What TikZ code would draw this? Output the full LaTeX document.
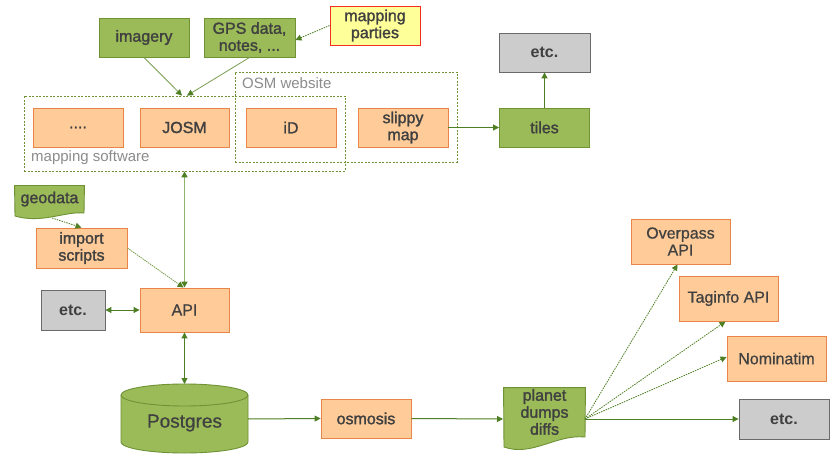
\documentclass[tikz,border=0pt]{standalone}
\usepackage{fontspec}
\setmainfont{Liberation Sans}
\newfontfamily\medfont{Liberation Sans}[FakeBold=1.6]
\newfontfamily\regfont{Liberation Sans}[FakeBold=0.7]
\usetikzlibrary{arrows.meta}
\definecolor{gfill}{HTML}{9BBB59}
\definecolor{gline}{HTML}{6E9234}
\definecolor{arr}{HTML}{4F7F24}
\definecolor{lgline}{HTML}{8DB76A}
\definecolor{thinc}{HTML}{7A9E52}
\definecolor{ofill}{HTML}{FFCC99}
\definecolor{oline}{HTML}{E8864A}
\definecolor{grfill}{HTML}{CCCCCC}
\definecolor{grline}{HTML}{6A6A6A}
\definecolor{yfill}{HTML}{FFFF99}
\definecolor{yline}{HTML}{F03020}
\definecolor{txt}{HTML}{404040}
\definecolor{lbl}{HTML}{8C8C8C}
\tikzset{arrtip/.tip={Triangle[length=6pt,width=6pt,color=arr,fill=arr]}}
\begin{document}
\begin{tikzpicture}[x=1pt,y=-1pt,
  base/.style={rectangle, line width=0.9pt, inner sep=0pt, align=center, text=txt,
    font=\fontsize{16}{17}\selectfont\regfont},
  med/.style={font=\fontsize{16}{17}\selectfont\medfont},
  sz/.style 2 args={minimum width=#1pt, minimum height=#2pt},
  greenbox/.style={base, med, fill=gfill, draw=gline},
  orangebox/.style={base, fill=ofill, draw=oline},
  greybox/.style={base, fill=grfill, draw=grline, font=\fontsize{16}{17}\selectfont\bfseries},
  yellowbox/.style={base, med, fill=yfill, draw=yline},
  plain/.style={base, draw=none},
  greendoc/.style={fill=gfill, draw=gline, line width=0.9pt},
  group/.style={draw=gline, line width=0.8pt, dash pattern=on 2pt off 1.5pt, inner sep=0pt},
  grouplabel/.style={text=lbl, font=\fontsize{15}{17}\selectfont, inner sep=0pt},
  arrowline/.style={draw=arr, line width=1pt, -{arrtip}},
  dblarrow/.style={draw=arr, line width=1pt, {arrtip}-{arrtip}},
  lightdbl/.style={draw=lgline, line width=1.8pt, {arrtip}-{arrtip}},
  thinarrow/.style={draw=thinc, line width=0.8pt, -{arrtip}},
  dottedarrow/.style={draw=arr, line width=0.8pt, dash pattern=on 1.5pt off 1pt, -{arrtip}},
]
\useasboundingbox (0,0) rectangle (840,473);
\fill[white] (0,0) rectangle (840,473);

% group boxes
\node[group, sz={321}{75}] (msbox) at (184.5,133.5) {};
\node[group, sz={222}{90}] (osmbox) at (346,117) {};
\node[grouplabel, anchor=base west] (mslabel) at (31,162) {mapping software};
\node[grouplabel, anchor=base west] (osmlabel) at (242,89) {OSM website};

% top sources
\node[greenbox, sz={90}{39}] (imagery) at (144,37.5) {imagery};
\node[greenbox, sz={91}{39}] (gps) at (249.5,37.5) {GPS data,\\notes, ...};
\node[yellowbox, sz={90}{39}] (parties) at (375,25.5) {mapping\\parties};

% editors
\node[orangebox, med, sz={90}{39}] (dots) at (78,127.5) {....};
\node[orangebox, med, sz={89}{39}] (josm) at (184.5,127.5) {JOSM};
\node[orangebox, sz={90}{39}] (id) at (291,127.5) {iD};
\node[orangebox, med, sz={90}{39}] (slippy) at (403,127.5) {slippy\\map};
\node[greenbox, sz={90}{39}] (tiles) at (544.5,127.5) {tiles};
\node[greybox, sz={91}{39}] (etctop) at (544.5,52.5) {etc.};

% geodata document
\node[plain, sz={69}{28}] (geodata) at (49.5,200) {};
\draw[greendoc] (geodata.north west) -- (geodata.north east) -- (84,213)
  .. controls (65,211) and (42,224) .. (15,216) -- cycle;
\node[plain, med] (geotext) at (49.5,199) {geodata};
\coordinate (geob) at (52,218);

\node[orangebox, med, sz={91}{40}] (import) at (81.5,248) {import\\scripts};
\node[orangebox, sz={89}{44}] (api) at (184.5,310) {API};
\node[greybox, sz={64}{40}] (etcleft) at (73,310) {etc.};

% Postgres cylinder
\node[plain, sz={127}{69}] (pg) at (184.5,418.5) {};
\draw[greendoc] (121,395) -- (121,442)
  arc[start angle=180, end angle=0, x radius=63.5, y radius=11] -- (248,395)
  arc[start angle=0, end angle=-180, x radius=63.5, y radius=11] -- cycle;
\draw[gline, line width=0.9pt] (121,395) arc[start angle=180, end angle=0, x radius=63.5, y radius=11];
\node[plain, font=\fontsize{19}{21}\selectfont\regfont] (pgtext) at (184.5,423) {Postgres};

\node[orangebox, med, sz={90}{39}] (osmosis) at (366,418.5) {osmosis};

% planet document
\node[plain, sz={81}{50}] (planet) at (544.5,413) {};
\draw[greendoc] (planet.north west) -- (planet.north east) -- (585,437)
  .. controls (556,434) and (532,457) .. (504,447) -- cycle;
\node[plain, med] (planettext) at (544.5,412) {planet\\dumps\\diffs};
\coordinate (pout) at (585,419);

% consumers
\node[orangebox, sz={99}{45}] (overpass) at (680.5,241.5) {Overpass\\API};
\node[orangebox, sz={99}{45}] (taginfo) at (728.5,298.5) {Taginfo API};
\node[orangebox, sz={99}{45}] (nominatim) at (776.5,358.5) {Nominatim};
\node[greybox, sz={90}{40}] (etcright) at (784,419) {etc.};

% connectors
\draw[thinarrow] (imagery.south) -- ([xshift=-2.5pt]msbox.north);
\draw[thinarrow] (gps.south) -- ([xshift=2.5pt]msbox.north);
\draw[dottedarrow] (parties.west) -- ([yshift=-2.5pt]gps.east);
\draw[arrowline] (slippy.east) -- (tiles.west);
\draw[arrowline] (tiles.north) -- (etctop.south);
\draw[dottedarrow] (geob) -- (import.north);
\draw[thinarrow, dash pattern=on 1.5pt off 0.8pt] (import.east) -- ([xshift=-1pt]api.north);
\draw[lightdbl] (msbox.south) -- (api.north);
\draw[dblarrow] (etcleft.east) -- (api.west);
\draw[dblarrow] (api.south) -- (184.5,384) coordinate (pgtop);
\draw[arrowline] (248,419) coordinate (pgright) -- (osmosis.west);
\draw[arrowline] (osmosis.east) -- (503,419) coordinate (planetleft);
\draw[arrowline] (pout) -- (etcright.west);
\draw[dottedarrow] (pout) -- ([xshift=-3pt]overpass.south);
\draw[dottedarrow] (pout) -- ([xshift=-3pt]taginfo.south);
\draw[dottedarrow] (pout) -- ([yshift=1.5pt]nominatim.west);
\end{tikzpicture}
\end{document}
